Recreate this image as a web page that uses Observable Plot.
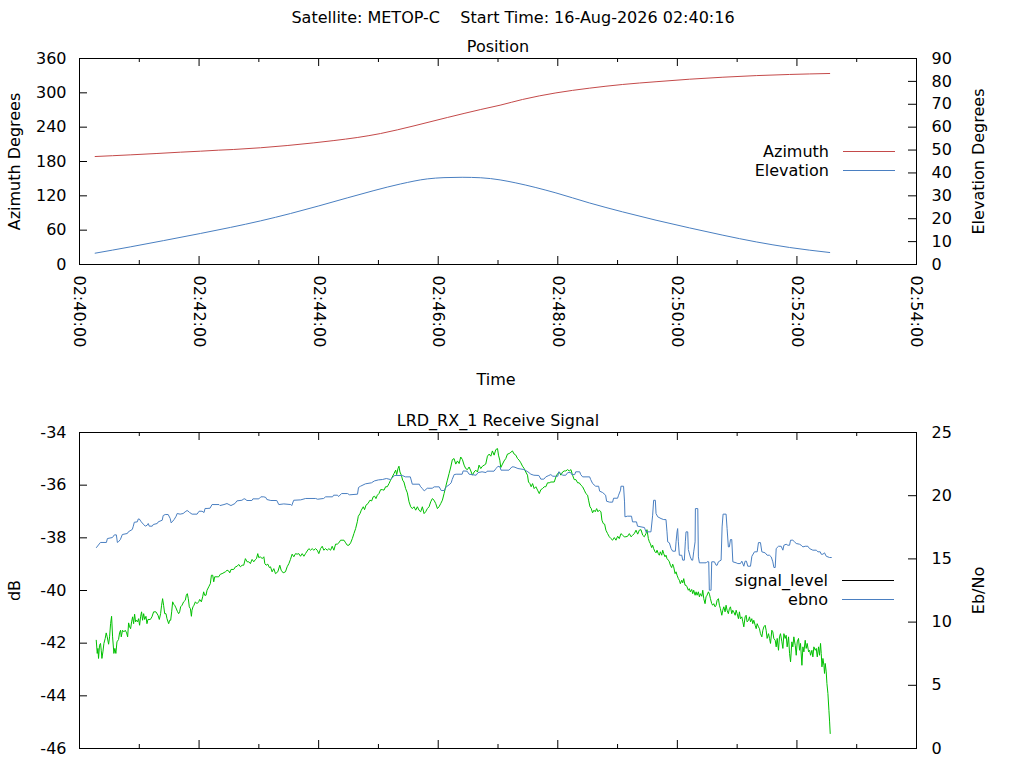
<!DOCTYPE html>
<html><head><meta charset="utf-8">
<script src="https://cdn.jsdelivr.net/npm/d3@7"></script>
<script src="https://cdn.jsdelivr.net/npm/@observablehq/plot@0.6"></script>
<style>
html,body{margin:0;padding:0;background:#fff;}
#wrap{position:relative;width:1024px;height:768px;overflow:hidden;}
#wrap svg{position:absolute;left:0;}
</style></head><body><div id="wrap"></div>
<script>
// ---------- text ----------
const mainTitle = "Satellite: METOP-C\u00a0\u00a0\u00a0\u00a0Start Time: 16-Aug-2026 02:40:16";
const topTitle = "Position";
const bottomTitle = "LRD_RX_1 Receive Signal";
const xLabel = "Time";
const azLabel = "Azimuth Degrees";
const elLabel = "Elevation Degrees";
const dbLabel = "dB";
const ebnoLabel = "Eb/No";
const topLegend = ["Azimuth", "Elevation"];
const bottomLegend = ["signal_level", "ebno"];

// ---------- axes ----------
const startISO = "2026-08-16T02:40:00Z";
const spanMinutes = 14;
const azTicks = [0, 60, 120, 180, 240, 300, 360];
const elTicks = [0, 10, 20, 30, 40, 50, 60, 70, 80, 90];
const dbTicks = [-46, -44, -42, -40, -38, -36, -34];
const ebnoTicks = [0, 5, 10, 15, 20, 25];

// ---------- position data (seconds after 02:40:00) ----------
const azTime = [15.7,50.9,77.7,101.2,121.3,139.7,154.8,181.6,208.4,235.2,255.3,278.7,302.2,335.7,369.2,402.7,422.1,444.6,478.1,511.6,545.1,578.6,612.2,645.7,679.2,712.7,752.9];
const azimuth = [188.7,191.6,194.0,196.3,198.0,199.8,201.0,204.0,207.9,212.6,216.6,221.9,228.9,242.3,256.9,270.9,278.4,288.4,299.9,308.1,314.6,319.4,323.8,327.3,330.1,332.1,333.8];
const elTime = [15.7,50.9,84.5,121.3,151.5,181.6,211.8,240.2,268.7,295.5,322.3,349.1,365.8,384.0,402.7,422.1,437.9,478.1,511.6,545.1,578.6,612.2,645.7,679.2,712.7,752.9];
const elevation = [4.94,7.69,10.45,13.55,16.20,19.05,22.28,25.60,29.10,32.30,35.20,37.40,37.95,38.10,37.90,36.96,35.65,31.28,26.91,22.98,19.35,15.99,12.80,9.87,7.43,5.24];

// ---------- receive signal (green, dB) ----------
const sigTime = [16.8,17.8,18.5,19.1,20.1,21.1,21.8,22.5,23.5,24.5,25.8,26.8,27.8,29.2,30.2,31.2,32.2,33.2,34.5,35.5,36.5,37.6,39.2,40.2,41.2,41.9,43.2,44.6,45.9,47.3,48.3,49.3,50.3,51.3,52.3,53.3,54.3,55.3,56.3,57.3,58.3,59.3,60.3,61.3,62.3,63.3,64.4,65.4,66.7,67.7,68.7,71.1,72.7,74.4,76.7,78.8,80.1,81.4,82.4,83.4,84.4,85.5,86.8,87.8,89.5,90.5,91.5,92.5,93.5,94.5,95.5,96.8,98.2,99.5,100.5,101.5,102.9,104.5,106.2,107.2,108.2,109.2,110.2,111.3,112.3,112.9,113.9,114.9,116.3,117.9,119.6,120.6,122.3,123.6,124.6,125.6,127.0,128.0,129.7,131.3,132.4,133.7,134.7,135.7,138.1,139.7,141.4,143.1,146.4,148.1,149.8,150.8,152.1,154.8,156.5,158.2,159.8,161.5,163.2,164.8,166.5,168.2,169.9,171.5,173.2,174.9,176.6,177.6,178.9,179.9,181.6,183.3,185.0,186.0,187.3,189.0,190.6,
191.7,193.3,195.0,196.7,199.0,201.0,202.4,204.4,206.7,208.4,210.1,211.7,213.4,215.1,216.8,218.4,220.1,221.8,223.5,225.2,226.8,228.5,230.2,231.9,233.5,235.2,236.9,238.6,240.2,241.9,243.6,245.2,246.9,248.6,250.3,252.0,253.6,255.3,257.0,258.7,260.3,262.0,265.4,267.1,268.7,270.4,272.1,273.8,275.4,277.1,278.8,279.8,281.5,282.8,284.8,286.1,287.5,289.5,291.5,293.2,294.8,296.2,297.5,298.9,300.5,302.2,303.9,305.6,307.2,308.9,310.6,312.2,313.9,315.6,317.3,318.3,319.6,320.6,321.6,323.0,324.3,325.6,327.3,329.0,330.7,332.4,334.0,335.7,337.4,339.1,340.7,342.4,344.1,345.8,347.4,349.1,350.8,352.5,354.1,355.8,357.5,359.2,360.8,362.5,364.2,365.9,367.5,369.2,370.9,372.6,374.2,375.9,
377.6,379.3,381.0,382.6,384.3,386.0,387.6,389.3,391.0,392.7,394.3,396.0,397.7,399.4,401.0,402.7,404.4,406.1,407.7,409.4,411.1,412.8,414.4,416.1,417.8,419.5,420.5,421.8,422.8,424.5,426.1,427.8,429.5,431.2,432.9,434.5,436.2,437.9,439.6,441.2,442.9,444.6,446.3,447.9,449.6,450.6,452.0,453.3,454.7,456.3,458.0,459.7,461.4,463.0,464.7,466.4,468.0,469.7,471.4,473.1,476.4,478.1,479.8,481.4,483.1,484.8,486.5,488.1,489.8,491.5,493.2,494.8,496.5,498.2,499.9,501.5,503.2,504.9,506.6,508.2,509.9,510.9,512.3,513.6,514.9,516.3,517.6,519.0,520.3,521.6,523.3,524.3,525.7,527.0,528.3,530.0,531.7,533.4,535.0,536.7,538.4,540.1,541.7,543.4,545.1,546.7,548.4,550.1,551.8,553.5,555.1,556.8,558.5,560.2,561.8,
563.5,565.2,566.8,568.5,569.5,570.9,571.9,572.9,574.2,575.2,576.2,577.6,578.6,579.6,580.9,581.9,582.9,584.3,585.3,586.3,587.6,588.6,589.6,591.0,592.0,593.0,594.3,595.3,596.3,597.7,598.7,599.7,601.0,602.0,603.0,604.4,605.4,606.4,607.7,608.7,609.7,611.0,612.0,613.0,614.4,615.4,616.4,617.8,618.8,619.8,621.1,622.1,623.1,624.5,625.5,626.5,627.8,628.8,629.8,631.2,632.2,633.2,634.5,635.5,636.5,637.9,638.9,639.9,641.2,642.2,643.2,644.6,645.6,646.6,647.9,648.9,649.9,651.2,652.2,653.3,654.6,655.6,656.6,658.0,659.0,660.0,661.3,662.3,663.3,664.7,665.7,666.7,668.0,669.0,670.0,671.4,672.4,673.4,674.7,675.7,676.7,678.1,679.1,680.1,681.4,682.4,683.4,684.8,685.8,686.8,688.1,689.1,690.1,691.5,692.5,693.5,694.8,695.8,696.8,698.2,699.2,700.2,701.5,702.5,703.5,704.9,705.9,706.9,708.2,709.2,710.2,711.6,712.6,713.6,714.9,715.9,716.9,718.3,719.3,720.3,721.6,722.6,723.6,725.0,726.0,727.0,728.3,729.3,730.3,731.7,732.7,733.7,735.0,736.0,737.0,738.4,739.4,740.4,741.7,742.7,743.7,744.4,745.1,746.1,747.1,747.7,748.4,749.4,750.1,751.1,752.1,752.8,753.4];
const sigDb = [-41.89,-42.39,-42.20,-42.58,-42.08,-42.01,-42.27,-42.58,-42.33,-42.01,-41.82,-41.61,-41.76,-42.04,-41.76,-41.26,-40.98,-41.76,-42.39,-42.20,-42.39,-41.95,-41.86,-41.61,-41.51,-41.76,-41.51,-41.57,-41.51,-41.61,-41.76,-41.23,-41.38,-41.45,-41.19,-41.00,-41.26,-40.90,-41.19,-41.13,-41.19,-41.07,-41.32,-41.00,-40.81,-41.13,-40.88,-41.10,-40.98,-41.26,-41.10,-41.10,-41.00,-40.81,-40.81,-40.94,-41.10,-40.88,-40.56,-40.31,-40.56,-40.88,-40.88,-41.07,-41.26,-41.13,-41.13,-40.81,-40.43,-40.52,-40.56,-40.66,-40.79,-40.88,-40.81,-40.62,-40.56,-40.43,-40.37,-40.18,-40.12,-40.31,-40.62,-40.69,-40.98,-40.75,-40.62,-40.56,-40.43,-40.50,-40.43,-40.34,-40.43,-40.24,-40.05,-40.18,-40.18,-39.99,-39.86,-39.74,-39.42,-39.42,-39.67,-39.48,-39.48,-39.48,-39.38,-39.36,-39.29,-39.23,-39.26,-39.33,-39.20,-39.20,-39.10,-39.08,-39.01,-39.10,-39.04,-39.04,-38.79,-38.91,-38.91,-38.98,-38.82,-38.91,-38.82,-38.79,-38.60,-38.75,-38.72,-38.79,-38.72,-38.98,-39.04,-39.00,-39.13,
-39.10,-39.29,-39.17,-39.36,-39.29,-39.04,-39.23,-39.33,-39.29,-39.10,-38.98,-38.82,-38.62,-38.72,-38.60,-38.62,-38.60,-38.70,-38.60,-38.70,-38.60,-38.50,-38.41,-38.47,-38.41,-38.47,-38.41,-38.47,-38.60,-38.41,-38.32,-38.47,-38.41,-38.47,-38.41,-38.47,-38.32,-38.47,-38.24,-38.24,-38.19,-38.09,-38.09,-38.19,-38.28,-38.28,-38.19,-38.03,-37.84,-37.65,-37.39,-37.18,-37.08,-36.95,-36.82,-36.93,-36.76,-36.70,-36.57,-36.60,-36.44,-36.42,-36.51,-36.38,-36.32,-36.17,-36.17,-36.19,-36.06,-36.06,-35.94,-35.81,-35.69,-35.56,-35.43,-35.60,-35.37,-35.28,-35.50,-35.62,-35.81,-35.88,-36.13,-36.29,-36.63,-36.82,-36.89,-36.82,-36.95,-36.82,-36.95,-37.01,-36.82,-37.08,-37.01,-36.89,-36.82,-36.63,-36.51,-36.57,-36.70,-36.89,-36.82,-36.70,-36.57,-36.32,-36.06,-35.81,-35.56,-35.31,-35.03,-34.99,
-35.20,-35.08,-35.18,-34.93,-35.03,-35.24,-35.37,-35.41,-35.31,-35.46,-35.62,-35.50,-35.43,-35.50,-35.24,-35.37,-35.28,-35.24,-35.20,-34.90,-34.82,-34.90,-34.70,-34.86,-34.65,-34.61,-34.86,-35.05,-35.33,-35.20,-35.08,-34.99,-34.82,-34.80,-34.75,-34.70,-34.82,-34.86,-34.99,-35.05,-35.15,-35.28,-35.37,-35.50,-35.62,-35.88,-35.94,-36.06,-35.94,-36.13,-36.06,-36.19,-36.32,-36.17,-36.13,-36.06,-36.06,-35.91,-35.91,-35.88,-35.88,-35.69,-35.56,-35.50,-35.62,-35.50,-35.46,-35.46,-35.41,-35.46,-35.41,-35.62,-35.79,-35.79,-35.91,-35.91,-36.00,-36.06,-36.19,-36.32,-36.38,-36.57,-36.82,-36.89,-37.05,-36.95,-37.01,-36.89,-37.01,-36.95,-37.01,-37.33,-37.46,-37.48,-37.71,-37.84,-37.96,-38.03,-38.09,-37.99,-38.09,-37.94,-38.03,-37.84,-37.90,-37.96,-37.96,-37.94,-37.84,-37.96,-37.90,-37.84,-37.71,-37.86,-37.71,
-37.69,-37.90,-37.96,-37.84,-37.69,-38.03,-38.15,-38.22,-38.37,-38.28,-38.41,-38.53,-38.57,-38.47,-38.60,-38.66,-38.53,-38.66,-38.47,-38.60,-38.72,-38.66,-38.79,-38.85,-38.91,-39.04,-39.13,-39.00,-39.10,-39.36,-39.29,-39.42,-39.55,-39.61,-39.74,-39.61,-39.71,-39.55,-39.80,-39.80,-39.86,-39.99,-39.93,-40.05,-39.96,-40.12,-39.99,-40.18,-40.05,-40.18,-40.05,-40.24,-40.12,-40.22,-39.99,-40.31,-40.50,-40.24,-40.18,-40.05,-40.14,-40.31,-40.50,-40.56,-40.50,-40.62,-40.56,-40.37,-40.31,-40.56,-40.69,-40.94,-40.75,-40.62,-40.81,-40.56,-40.75,-40.88,-40.69,-40.62,-40.88,-40.75,-40.81,-40.94,-40.75,-40.88,-41.07,-40.81,-41.07,-41.00,-41.19,-41.38,-41.00,-40.94,-41.19,-41.13,-41.00,-41.19,-41.07,-41.26,-41.13,-41.32,-41.45,-41.26,-41.38,-41.45,-41.64,-41.76,-41.51,-41.38,-41.32,-41.51,-41.82,-41.64,-41.82,-42.01,-41.51,-41.57,-41.82,-41.89,-42.14,-41.82,-42.27,-41.76,-41.64,-41.95,-42.20,-41.64,-41.82,-41.70,-42.14,-41.76,-42.39,-42.71,-41.95,-42.14,-41.76,-42.08,-42.46,-41.95,-41.82,-42.27,-42.01,-42.84,-42.14,-42.33,-41.89,-42.20,-42.01,-42.33,-42.27,-42.46,-42.27,-42.52,-42.14,-42.27,-42.20,-42.52,-42.14,-42.46,-42.01,-42.39,-42.90,-42.58,-42.84,-43.15,-42.77,-43.09,-43.53,-43.91,-44.55,-44.99,-45.43];

// ---------- Eb/No (blue) ----------
const ebnoTime = [17,21,27,28,33,35,37,38,39,41,43,48,49,53,54,55,58,59,60,62,64,66,68,69,70,73,74,78,79,83,84,86,89,91,92,93,95,97,98,101,104,106,108,110,111,113,118,120,123,125,126,128,131,133,140,141,145,148,150,152,154,156,158,163,165,166,168,173,174,180,182,185,187,188,192,
198,200,205,212,213,215,222,227,237,239,245,247,254,255,259,260,263,269,271,279,280,282,287,293,296,300,304,308,312,315,316,324,327,332,334,341,342,344,346,349,354,356,361,363,366,368,371,373,374,376,
378,384,385,389,391,398,400,404,408,409,416,418,420,422,423,431,434,436,440,446,450,453,456,461,463,466,468,471,473,475,480,481,485,488,490,493,494,497,498,502,503,505,512,513,515,518,521,522,525,528,529,532,535,536,540,541,543,543.4,546,547,547.4,550,554,555,559,560,567,
568.5,573.5,575.2,576.2,577.9,578.6,580.3,583.6,586.3,588.6,589.6,590.3,592.0,593.7,595.3,598.0,598.7,599.7,600.3,601.0,602.0,604.4,605.4,607.0,608.0,608.7,610.4,611.0,613.0,614.4,615.4,616.4,617.8,618.1,620.5,621.1,622.1,628.8,629.8,631.5,632.1,633.8,634.5,637.2,638.9,639.9,641.2,643.9,644.9,645.9,648.9,649.9,651.2,652.2,653.3,654.6,655.7,659.0,660.7,663.3,664.7,666.7,668.0,669.3,670.7,673.4,674.8,677.4,680.1,681.4,683.4,684.8,688.1,690.1,692.4,694.2,695.8,696.9,698.2,699.2,701.5,704.2,705.9,706.9,709.2,710.9,712.6,713.6,715.9,717.6,719.3,722.6,724.3,726.0,728.3,731.0,732.6,736.0,739.4,741.1,743.4,744.4,746.1,747.7,749.4,752.7,754.5];
const ebno = [15.90,16.30,16.30,16.61,16.69,16.90,16.90,16.30,16.35,16.53,16.93,17.01,17.14,17.33,17.59,17.90,17.93,18.16,18.16,17.93,17.75,17.59,17.67,17.80,17.59,17.59,17.72,17.80,17.93,18.06,18.43,18.51,18.51,18.20,17.85,17.93,18.12,18.38,18.59,18.54,18.59,18.72,18.83,18.72,18.64,18.54,18.54,18.77,18.77,18.67,18.99,18.99,19.01,19.30,19.30,19.22,19.30,19.38,19.30,19.22,19.30,19.38,19.59,19.64,19.75,19.75,19.62,19.62,19.75,19.75,19.91,19.91,19.86,19.70,19.62,
19.62,19.30,19.35,19.30,19.22,19.64,19.67,19.78,19.78,19.72,19.78,19.91,19.91,20.04,20.04,19.93,20.17,20.17,20.07,20.12,20.65,20.75,20.94,21.02,21.17,21.25,21.28,21.36,21.28,21.49,21.60,21.60,21.49,21.49,20.91,20.91,20.75,20.57,20.38,20.59,20.59,20.70,20.70,20.41,20.41,20.70,20.86,21.02,21.28,21.67,
21.70,21.70,21.96,21.94,21.70,21.62,21.83,21.89,21.83,21.94,21.94,22.15,22.33,22.28,22.02,22.02,22.28,22.28,22.15,22.07,21.89,21.70,21.62,21.60,21.31,21.31,21.49,21.60,21.67,21.54,21.54,21.89,21.62,21.62,21.83,21.83,21.67,21.67,21.89,21.89,21.67,21.49,21.49,21.28,20.96,20.75,20.75,20.36,20.25,20.04,19.56,19.49,19.49,19.80,19.80,20.04,20.44,20.75,20.75,19.51,18.33,18.38,18.38,17.93,17.93,17.59,17.48,
17.14,17.14,18.46,19.64,19.64,18.59,18.33,18.19,18.11,18.11,17.14,16.35,16.27,15.82,15.61,15.61,16.35,17.14,17.40,16.35,15.29,15.29,14.90,14.90,16.35,17.14,17.14,15.74,15.16,14.90,14.90,15.56,16.35,18.98,18.98,15.16,14.69,14.69,14.77,14.77,12.52,12.52,14.77,14.77,14.50,14.50,14.77,14.90,17.53,18.54,18.54,17.40,15.95,15.95,16.53,16.53,14.77,14.69,14.63,14.63,14.82,14.42,14.82,14.82,14.42,14.42,15.21,15.56,15.56,16.29,16.29,15.56,15.48,15.29,15.29,15.16,14.77,14.32,14.32,15.82,16.00,16.00,15.69,16.08,16.16,16.08,16.08,16.48,16.48,16.35,16.22,16.16,16.08,15.95,16.00,16.00,15.82,15.69,15.69,15.56,15.56,15.37,15.37,15.48,15.21,15.11,15.11];

// ---------- colours ----------
const azColor = "#c44a4a", elColor = "#4a7fc1", sigColor = "#00c000", ebnoColor = "#4a7fc1";

// ---------- helpers ----------
const base = Date.parse(startISO);
const toDate = s => new Date(base + s * 1000);
const xDomain = [toDate(0), toDate(spanMinutes * 60)];
const allMinutes = d3.utcMinute.range(xDomain[0], new Date(+xDomain[1] + 1));
const majorTicks = allMinutes.filter(d => d.getUTCMinutes() % 2 === 0);
const minorTicks = allMinutes.filter(d => d.getUTCMinutes() % 2 === 1);
const zip = (ts, vs) => ts.map((t, i) => ({t: toDate(t), v: vs[i]}));

const W = 1024, mL = 79, mR = 108, innerW = W - mL - mR;
const FF = "'DejaVu Sans', sans-serif", FS = 16;
const FONT = {fontFamily: FF, fontSize: FS + "px", color: "#000", background: "transparent", overflow: "visible"};
const label = (txt, opts) => Plot.text([txt], {textAnchor: "middle", lineAnchor: "middle", fill: "#000", ...opts});

function xTickMarks(innerH) {
  return [
    Plot.tickX(majorTicks, {insetTop: innerH - 8, stroke: "#000"}),
    Plot.tickX(majorTicks, {insetBottom: innerH - 8, stroke: "#000"}),
    Plot.tickX(minorTicks, {insetTop: innerH - 4, stroke: "#000"}),
    Plot.tickX(minorTicks, {insetBottom: innerH - 4, stroke: "#000"})
  ];
}

function legend(svg, entries, x, y0, gap) {
  const g = d3.select(svg).append("g").attr("font-family", FF).attr("font-size", FS);
  entries.forEach(([name, color], i) => {
    const y = y0 + i * gap;
    g.append("text").attr("x", x).attr("y", y).attr("dy", "0.35em").attr("text-anchor", "end").attr("fill", "#000").text(name);
    g.append("line").attr("x1", x + 14).attr("x2", x + 66).attr("y1", y + 0.5).attr("y2", y + 0.5).attr("stroke", color).attr("stroke-width", 1);
  });
}

// ---------- top panel ----------
const topH = 400, topMT = 58, topMB = 136, topInner = topH - topMT - topMB;
const elScale = 360 / 90;
const topPlot = Plot.plot({
  width: W, height: topH, marginLeft: mL, marginRight: mR, marginTop: topMT, marginBottom: topMB,
  style: FONT,
  x: {type: "utc", domain: xDomain},
  y: {domain: [0, 360]},
  marks: [
    Plot.line(zip(azTime, azimuth), {x: "t", y: "v", stroke: azColor, strokeWidth: 1, curve: "monotone-x"}),
    Plot.line(zip(elTime, elevation), {x: "t", y: d => d.v * elScale, stroke: elColor, strokeWidth: 1, curve: "monotone-x"}),
    Plot.frame({stroke: "#000"}),
    Plot.tickY(azTicks, {insetRight: innerW - 8, stroke: "#000"}),
    Plot.tickY(elTicks.map(e => e * elScale), {insetLeft: innerW - 8, stroke: "#000"}),
    ...xTickMarks(topInner),
    Plot.axisY({anchor: "left", ticks: azTicks, tickSize: 0, tickPadding: 13, tickFormat: d => String(d), label: null}),
    Plot.axisY({anchor: "right", ticks: elTicks.map(e => e * elScale), tickSize: 0, tickPadding: 15, tickFormat: d => String(Math.round(d / elScale)), label: null}),
    Plot.axisX({anchor: "bottom", ticks: majorTicks, tickSize: 0, tickPadding: 11, tickRotate: 90, tickFormat: d3.utcFormat("%H:%M:%S"), label: null}),
    label(azLabel, {frameAnchor: "left", rotate: -90, dx: -65}),
    label(elLabel, {frameAnchor: "right", rotate: -90, dx: 62}),
    label(topTitle, {frameAnchor: "top", dy: -12}),
    label(mainTitle, {frameAnchor: "top", dy: -41, dx: 15}),
    label(xLabel, {frameAnchor: "bottom", dy: 115, dx: -2})
  ]
});
topPlot.style.top = "0px";
legend(topPlot, [[topLegend[0], azColor], [topLegend[1], elColor]], 829, 151, 19);

// ---------- bottom panel ----------
const botH = 368, botMT = 32, botMB = 20, botInner = botH - botMT - botMB;
const ebToDb = e => -46 + e * 12 / 25;
const dbToEb = d => (d + 46) * 25 / 12;
const botPlot = Plot.plot({
  width: W, height: botH, marginLeft: mL, marginRight: mR, marginTop: botMT, marginBottom: botMB,
  style: FONT,
  x: {type: "utc", domain: xDomain},
  y: {domain: [-46, -34]},
  marks: [
    Plot.line(zip(sigTime, sigDb), {x: "t", y: "v", stroke: sigColor, strokeWidth: 1}),
    Plot.line(zip(ebnoTime, ebno), {x: "t", y: d => ebToDb(d.v), stroke: ebnoColor, strokeWidth: 1}),
    Plot.frame({stroke: "#000"}),
    Plot.tickY(dbTicks, {insetRight: innerW - 8, stroke: "#000"}),
    Plot.tickY(ebnoTicks.map(ebToDb), {insetLeft: innerW - 8, stroke: "#000"}),
    ...xTickMarks(botInner),
    Plot.axisY({anchor: "left", ticks: dbTicks, tickSize: 0, tickPadding: 13, tickFormat: d => String(d), label: null}),
    Plot.axisY({anchor: "right", ticks: ebnoTicks.map(ebToDb), tickSize: 0, tickPadding: 15, tickFormat: d => String(Math.round(dbToEb(d))), label: null}),
    Plot.axisX({anchor: "bottom", ticks: [], label: null}),
    label(dbLabel, {frameAnchor: "left", rotate: -90, dx: -65}),
    label(ebnoLabel, {frameAnchor: "right", rotate: -90, dx: 62}),
    label(bottomTitle, {frameAnchor: "top", dy: -12})
  ]
});
botPlot.style.top = "400px";
legend(botPlot, [[bottomLegend[0], "#000"], [bottomLegend[1], ebnoColor]], 828, 180, 19);

document.getElementById("wrap").append(topPlot, botPlot);
</script>
</body></html>
